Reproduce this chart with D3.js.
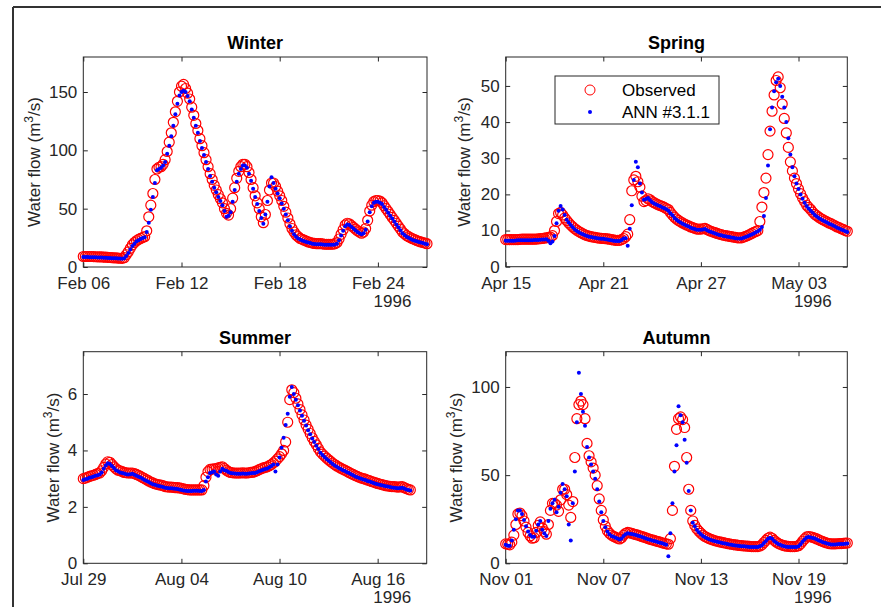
<!DOCTYPE html>
<html><head><meta charset="utf-8">
<script src="https://cdn.jsdelivr.net/npm/d3@7"></script>
<style>
html,body{margin:0;padding:0;background:#fff;}
svg{display:block;font-family:"Liberation Sans",Arial,Helvetica,sans-serif;}
</style></head>
<body><svg id="chart" width="881" height="607"></svg>
<script>
// ---- data (3-hourly samples) ----
const stepHours = 3;
const yearLabel = "1996";
const legendLabels = ["Observed", "ANN #3.1.1"];
const yLabelMain = "Water flow (m";
const yLabelSup = "3";
const yLabelEnd = "/s)";

const winterTitle = "Winter";
const winterStart = "1996-02-06";
const winterTicks = ["1996-02-06","1996-02-12","1996-02-18","1996-02-24"];
const winterYTicks = [0,50,100,150];
const winterYMax = 180;
const winterObs = [
  9,9,9,9,9,8.9,8.8,8.75,8.7,8.6,8.5,8.4,8.3,8.15,8,7.9,7.8,7.6,7.5,7.4,
  8,10.5,13,16,19,21,22.5,23.6,24.5,25.3,26,31,43,53,63,75,84,85.5,86,88,
  92,99,107,115,124,133,142,150,155,156.5,153,149,144,137,130,123,117,110,104,98,
  92,86,80,75,70,66,62,58.5,55,50,46,44.5,50,59,68,76,82,86,88,88,
  86,81,75,68,61,55,50,43,38,45,57,66,72,72,69,65,61,57,52,47,
  42,37,33,30,27.5,26,24.5,23.7,23,22.2,21.5,21,20.5,20.2,20,20,20,19.8,19.5,19.5,
  19.5,19.5,19.5,20,21,24,28,32,36,37.5,37,35.5,34,32.5,31,30,29,30,33,40,
  48,53,56,57,57,56.5,55,52.5,50,47.5,45,42.5,40,37.5,35,32.5,30,28.5,27,26,
  25,24.2,23.5,22.7,22,21.5,21,20.5,20];
const winterAnn = [
  8.5,8.5,8.5,8.45,8.4,8.35,8.3,8.25,8.2,8.1,8,7.9,7.8,7.7,7.6,7.5,7.4,7.3,7.2,7.1,
  7.5,9.5,12,15,18,20,22,23,24,24.8,25.5,30,38,49,60,72,83,84,85,87,
  90,97,104,112,121,131,140,147,150,151,150,146.5,142,135,128,121,115,108,102,96,
  90,84,78,73,68,64,60,56.5,53,48,43,44,47,56,66,73,80,84,87,87,
  85,80,74,67,60,54,48,42,37,45,56,69,77,72,67,63,59,54.5,50,45,
  40,35,31,28,26,24.5,23.5,22.7,22,21.5,21,20.5,20,19.7,19.5,19.5,19.5,19.2,19,19,
  19,19,19,19.3,20,23,27,31,35,36.5,36,34.5,33,31.5,30,29,28,29,32,39,
  47,52,55,56,56,55,54,51.5,49,46.5,44,41.5,39,36.5,34,31.5,29,27.5,26,25,
  24,23.2,22.5,22,21.5,21,20.5,20,19.5];

const springTitle = "Spring";
const springStart = "1996-04-15";
const springTicks = ["1996-04-15","1996-04-21","1996-04-27","1996-05-03"];
const springYTicks = [0,10,20,30,40,50];
const springYMax = 58;
const springObs = [
  7.5,7.5,7.5,7.5,7.5,7.5,7.5,7.55,7.6,7.6,7.6,7.6,7.6,7.6,7.6,7.65,7.7,7.75,7.8,7.9,
  8,8.1,8.2,8.6,10,12.5,14.7,15,14.3,13.5,12.8,12.1,11.5,11,10.5,10.1,9.7,9.4,9.1,8.8,
  8.6,8.45,8.3,8.2,8.1,8,7.9,7.85,7.8,7.75,7.7,7.6,7.5,7.4,7.3,7.3,7.3,7.5,7.8,8.3,
  9,13,21,24,25,23.5,22,19.5,18,18.3,18.8,18.5,18,17.7,17.4,17.1,16.9,16.7,16.4,16.1,
  15.8,15,14.3,13.7,13.2,12.8,12.4,12.1,11.8,11.5,11.3,11,10.8,10.6,10.4,10.4,10.4,10.5,10.6,10.3,
  10,9.8,9.6,9.4,9.2,9,8.9,8.7,8.6,8.5,8.4,8.3,8.2,8.1,8,8,8,8.2,8.4,8.6,
  8.9,9.2,9.5,9.7,10,12.5,16.5,20.5,24.5,31,37.5,43,47.5,51.5,52.5,49.5,45,41,37,33,
  29,26.5,24.5,23,21.5,20.2,19,18,17,16.4,15.8,15.1,14.5,14.1,13.7,13.3,13,12.7,12.4,12.1,
  11.9,11.6,11.3,11,10.8,10.5,10.3,10,9.8];
const springAnn = [
  7.2,7.2,7.2,7.2,7.2,7.25,7.3,7.3,7.3,7.3,7.3,7.3,7.3,7.35,7.4,7.4,7.4,7.45,7.5,7.55,
  7.6,7.2,6.5,7,8.5,12,15.5,16.8,15.8,14.3,13,12.2,11.5,10.9,10.3,9.9,9.5,9.2,9,8.7,
  8.5,8.3,8.2,8.1,8,7.9,7.8,7.75,7.7,7.6,7.5,7.4,7.3,7.2,7.1,7.1,7.1,7.4,7.8,7.9,
  5.8,10.5,17,24,29,27.5,23,20.5,18.5,18.7,19,18.4,17.8,17.5,17.2,16.9,16.7,16.4,16.2,15.9,
  15.5,14.8,14.2,13.5,13,12.6,12.2,11.9,11.6,11.3,11.1,10.8,10.6,10.4,10.2,10.2,10.2,10.3,10.4,10.1,
  9.8,9.6,9.4,9.2,9,8.8,8.7,8.5,8.4,8.3,8.2,8.1,8,7.9,7.8,7.8,7.8,8,8.2,8.4,
  8.7,8.9,9.2,9.5,9.8,10.2,11,14,19,28,38,44,48.5,51,52,50,47,44,40,35.5,
  31,27.5,25,23,21.5,20,18.8,17.7,16.8,16.1,15.5,14.9,14.3,13.9,13.5,13.1,12.8,12.5,12.2,11.9,
  11.7,11.4,11.1,10.8,10.6,10.3,10.1,9.8,9.6];

const summerTitle = "Summer";
const summerStart = "1996-07-29";
const summerTicks = ["1996-07-29","1996-08-04","1996-08-10","1996-08-16"];
const summerYTicks = [0,2,4,6];
const summerYMax = 7.5;
const summerObs = [
  3.0,3.02,3.05,3.08,3.1,3.12,3.15,3.18,3.2,3.28,3.4,3.52,3.6,3.58,3.5,3.42,3.35,3.3,3.28,3.25,
  3.22,3.21,3.2,3.2,3.2,3.18,3.15,3.12,3.08,3.04,3.0,2.96,2.92,2.88,2.85,2.82,2.8,2.78,2.77,2.75,
  2.72,2.71,2.7,2.7,2.69,2.68,2.68,2.67,2.66,2.64,2.62,2.61,2.6,2.6,2.6,2.6,2.6,2.6,2.6,2.75,
  3.05,3.25,3.33,3.34,3.35,3.36,3.38,3.4,3.42,3.36,3.3,3.25,3.22,3.21,3.2,3.2,3.2,3.2,3.21,3.2,
  3.2,3.21,3.22,3.23,3.25,3.28,3.32,3.35,3.38,3.4,3.42,3.46,3.5,3.56,3.62,3.7,3.78,3.88,4.0,4.3,
  5.0,5.8,6.15,6.05,5.85,5.65,5.45,5.26,5.08,4.9,4.75,4.6,4.45,4.32,4.2,4.07,3.95,3.87,3.8,3.73,
  3.67,3.61,3.55,3.5,3.45,3.41,3.37,3.33,3.3,3.26,3.22,3.18,3.15,3.11,3.08,3.05,3.02,3.0,2.98,2.95,
  2.93,2.9,2.88,2.85,2.83,2.81,2.79,2.77,2.75,2.74,2.73,2.72,2.72,2.71,2.7,2.71,2.72,2.68,2.65,2.62,
  2.6];
const summerAnn = [
  2.95,2.98,3.0,3.03,3.05,3.08,3.1,3.12,3.15,3.22,3.35,3.47,3.55,3.52,3.45,3.38,3.3,3.26,3.22,3.2,
  3.18,3.16,3.15,3.16,3.17,3.14,3.1,3.07,3.04,3.0,2.95,2.92,2.88,2.84,2.8,2.78,2.76,2.74,2.72,2.7,
  2.68,2.67,2.66,2.66,2.65,2.64,2.63,2.62,2.6,2.58,2.57,2.56,2.56,2.56,2.57,2.57,2.57,2.56,2.56,2.6,
  2.9,3.05,3.2,3.23,3.25,3.15,3.1,3.25,3.35,3.3,3.28,3.24,3.2,3.19,3.18,3.17,3.17,3.17,3.18,3.17,
  3.17,3.18,3.19,3.2,3.2,3.23,3.26,3.29,3.32,3.34,3.36,3.4,3.45,3.5,3.25,3.5,3.75,4.1,4.45,4.9,
  5.3,5.9,6.25,6.0,5.8,5.6,5.42,5.23,5.05,4.88,4.72,4.57,4.42,4.3,4.17,4.05,3.92,3.84,3.77,3.7,
  3.64,3.58,3.52,3.47,3.42,3.38,3.34,3.3,3.27,3.23,3.2,3.16,3.12,3.08,3.05,3.02,3.0,2.97,2.95,2.92,
  2.9,2.87,2.85,2.82,2.8,2.78,2.77,2.75,2.73,2.72,2.7,2.69,2.68,2.67,2.66,2.67,2.68,2.65,2.62,2.6,
  2.58];

const autumnTitle = "Autumn";
const autumnStart = "1996-11-01";
const autumnTicks = ["1996-11-01","1996-11-07","1996-11-13","1996-11-19"];
const autumnYTicks = [0,50,100];
const autumnYMax = 120;
const autumnObs = [
  11,10.8,10.5,12,16,22,28,28.5,27,24,20.5,17.5,15.5,14.2,14.5,17.5,21.5,23.5,20,18,
  16.5,22,30,34,34,33,29.5,36,42,42,39,33,26,35,60,82,90,92,90,82,
  68,61,57.5,54,50,44,36.5,30,24.6,21,18.5,17,16,15.3,14.8,14.2,13.8,14.5,16,17,
  17.5,17.3,17,16.6,16.3,16,15.6,15.2,14.8,14.4,14,13.6,13.3,13,12.6,12.3,12,11.6,11.3,11,
  10.8,14,30,55,76,82,83,81.5,77,60,42,30,24,21.5,19.5,18.2,17,16,15.2,14.6,
  14,13.6,13.2,12.8,12.5,12.2,12,11.7,11.5,11.2,11,10.8,10.6,10.4,10.3,10.1,10,9.9,9.8,9.7,
  9.6,9.5,9.5,9.5,9.5,9.8,10.5,11.8,13,14.2,14.8,14.2,13,12.1,11.3,10.8,10.3,10,9.7,9.6,
  9.5,9.5,9.5,9.6,10,11,12.5,13.8,15,15.2,15,14.7,14.3,13.8,13.3,12.8,12.3,11.9,11.5,11.2,
  11,11,11,11.1,11.2,11.2,11.3,11.4,11.5];
const autumnAnn = [
  10.5,10,10,13,19,25,30,30,28,24.5,21,18,16,15,15,18.5,22,24,19,17,
  15.5,24,31,34,36,29,32,40,45,42,38,22,13,34,52,80,108,96,86,78,
  66,60,56,52,48,42,35,29,24,20.5,18,16.5,15.5,15,14.5,14,13.5,14,15.5,16.5,
  17,16.8,16.6,16.3,16,15.6,15.3,14.9,14.5,14.1,13.7,13.3,13,12.6,12.3,12,11.7,11.3,11,10.5,
  4,17,34,52,67,89,84,80,70,57,41,30,23,21,19,17.6,16.5,15.5,14.8,14.2,
  13.6,13.2,12.8,12.5,12.2,11.9,11.6,11.4,11.2,10.9,10.7,10.5,10.3,10.1,10,9.8,9.7,9.6,9.5,9.4,
  9.3,9.2,9.2,9.2,9.2,9.6,10.2,11.5,12.7,13.9,14.5,13.9,12.7,11.8,11,10.5,10,9.7,9.4,9.3,
  9.2,9.2,9.2,9.3,9.7,10.8,12.2,13.5,14.7,14.9,14.7,14.4,14,13.5,13,12.5,12,11.6,11.2,10.9,
  10.7,10.7,10.7,10.8,10.9,10.9,11,11.1,11.2];

// ---- layout ----
const panels = [
  {title:winterTitle, start:winterStart, ticks:winterTicks, yTicks:winterYTicks, yMax:winterYMax, obs:winterObs, ann:winterAnn,
   left:83.3, right:427, top:57, bottom:267, ylabX:40},
  {title:springTitle, start:springStart, ticks:springTicks, yTicks:springYTicks, yMax:springYMax, obs:springObs, ann:springAnn,
   left:505.7, right:847.3, top:57, bottom:266.7, ylabX:470, legend:true},
  {title:summerTitle, start:summerStart, ticks:summerTicks, yTicks:summerYTicks, yMax:summerYMax, obs:summerObs, ann:summerAnn,
   left:83.3, right:426.7, top:351.7, bottom:563.3, ylabX:59},
  {title:autumnTitle, start:autumnStart, ticks:autumnTicks, yTicks:autumnYTicks, yMax:autumnYMax, obs:autumnObs, ann:autumnAnn,
   left:505.7, right:847.3, top:351.7, bottom:563.3, ylabX:462}
];

const svg = d3.select("#chart");
const axisColor = "#262626";
const parse = d3.utcParse("%Y-%m-%d");
const fmt = d3.utcFormat("%b %d");

// figure border
svg.append("line").attr("x1",13).attr("y1",7).attr("x2",881).attr("y2",7).attr("stroke","#333").attr("stroke-width",2);
svg.append("line").attr("x1",13).attr("y1",7).attr("x2",13).attr("y2",607).attr("stroke","#333").attr("stroke-width",2);

panels.forEach(p => {
  const t0 = parse(p.start);
  const t1 = d3.utcDay.offset(t0, 21);
  const x = d3.scaleUtc().domain([t0, t1]).range([p.left, p.right]);
  const y = d3.scaleLinear().domain([0, p.yMax]).range([p.bottom, p.top]);
  const tickDates = p.ticks.map(parse);
  const g = svg.append("g");

  const styleAxis = sel => {
    sel.select(".domain").remove();
    sel.selectAll("line").attr("stroke",axisColor);
    sel.selectAll("text").attr("fill",axisColor).style("font-size","17px").style("font-family",'"Liberation Sans",Arial,sans-serif');
  };
  g.append("g").attr("transform",`translate(0,${p.bottom})`)
    .call(d3.axisBottom(x).tickValues(tickDates).tickFormat(fmt).tickSizeInner(-4.5).tickSizeOuter(0).tickPadding(10))
    .call(styleAxis);
  g.append("g").attr("transform",`translate(0,${p.top})`)
    .call(d3.axisTop(x).tickValues(tickDates).tickFormat("").tickSizeInner(-4.5).tickSizeOuter(0))
    .call(styleAxis);
  g.append("g").attr("transform",`translate(${p.left},0)`)
    .call(d3.axisLeft(y).tickValues(p.yTicks).tickFormat(d3.format("d")).tickSizeInner(-4.5).tickSizeOuter(0).tickPadding(6))
    .call(styleAxis);
  g.append("g").attr("transform",`translate(${p.right},0)`)
    .call(d3.axisRight(y).tickValues(p.yTicks).tickFormat("").tickSizeInner(-4.5).tickSizeOuter(0))
    .call(styleAxis);

  g.append("rect").attr("x",p.left).attr("y",p.top).attr("width",p.right-p.left).attr("height",p.bottom-p.top)
    .attr("fill","none").attr("stroke",axisColor).attr("stroke-width",1);

  const tOf = i => d3.utcHour.offset(t0, i*stepHours);
  g.append("g").selectAll("circle").data(p.obs).join("circle")
    .attr("cx",(d,i)=>x(tOf(i))).attr("cy",d=>y(d)).attr("r",5)
    .attr("fill","none").attr("stroke","#ff0000").attr("stroke-width",1.2);
  g.append("g").selectAll("circle").data(p.ann).join("circle")
    .attr("cx",(d,i)=>x(tOf(i))).attr("cy",d=>y(d)).attr("r",2)
    .attr("fill","#0000ff");

  // title
  g.append("text").attr("x",(p.left+p.right)/2).attr("y",p.top-8).attr("text-anchor","middle")
    .style("font-size","18px").style("font-weight","bold").attr("fill","#000").text(p.title);
  // year
  g.append("text").attr("x",p.right-34.5).attr("y",p.bottom+40).attr("text-anchor","middle")
    .style("font-size","17px").attr("fill",axisColor).text(yearLabel);
  // y label
  const yl = g.append("text").attr("transform",`translate(${p.ylabX},${(p.top+p.bottom)/2}) rotate(-90)`)
    .attr("text-anchor","middle").style("font-size","17px").attr("fill",axisColor);
  yl.append("tspan").text(yLabelMain);
  yl.append("tspan").attr("dy",-7).style("font-size","12px").text(yLabelSup);
  yl.append("tspan").attr("dy",7).text(yLabelEnd);

  if (p.legend) {
    const lg = g.append("g");
    lg.append("rect").attr("x",555).attr("y",76).attr("width",164).attr("height",48)
      .attr("fill","#fff").attr("stroke",axisColor).attr("stroke-width",1);
    lg.append("circle").attr("cx",590).attr("cy",90).attr("r",5).attr("fill","none").attr("stroke","#ff0000");
    lg.append("circle").attr("cx",590).attr("cy",112).attr("r",2).attr("fill","#0000ff");
    lg.append("text").attr("x",622).attr("y",96).style("font-size","17px").attr("fill","#000").text(legendLabels[0]);
    lg.append("text").attr("x",622).attr("y",118).style("font-size","17px").attr("fill","#000").text(legendLabels[1]);
  }
});
</script></body></html>
